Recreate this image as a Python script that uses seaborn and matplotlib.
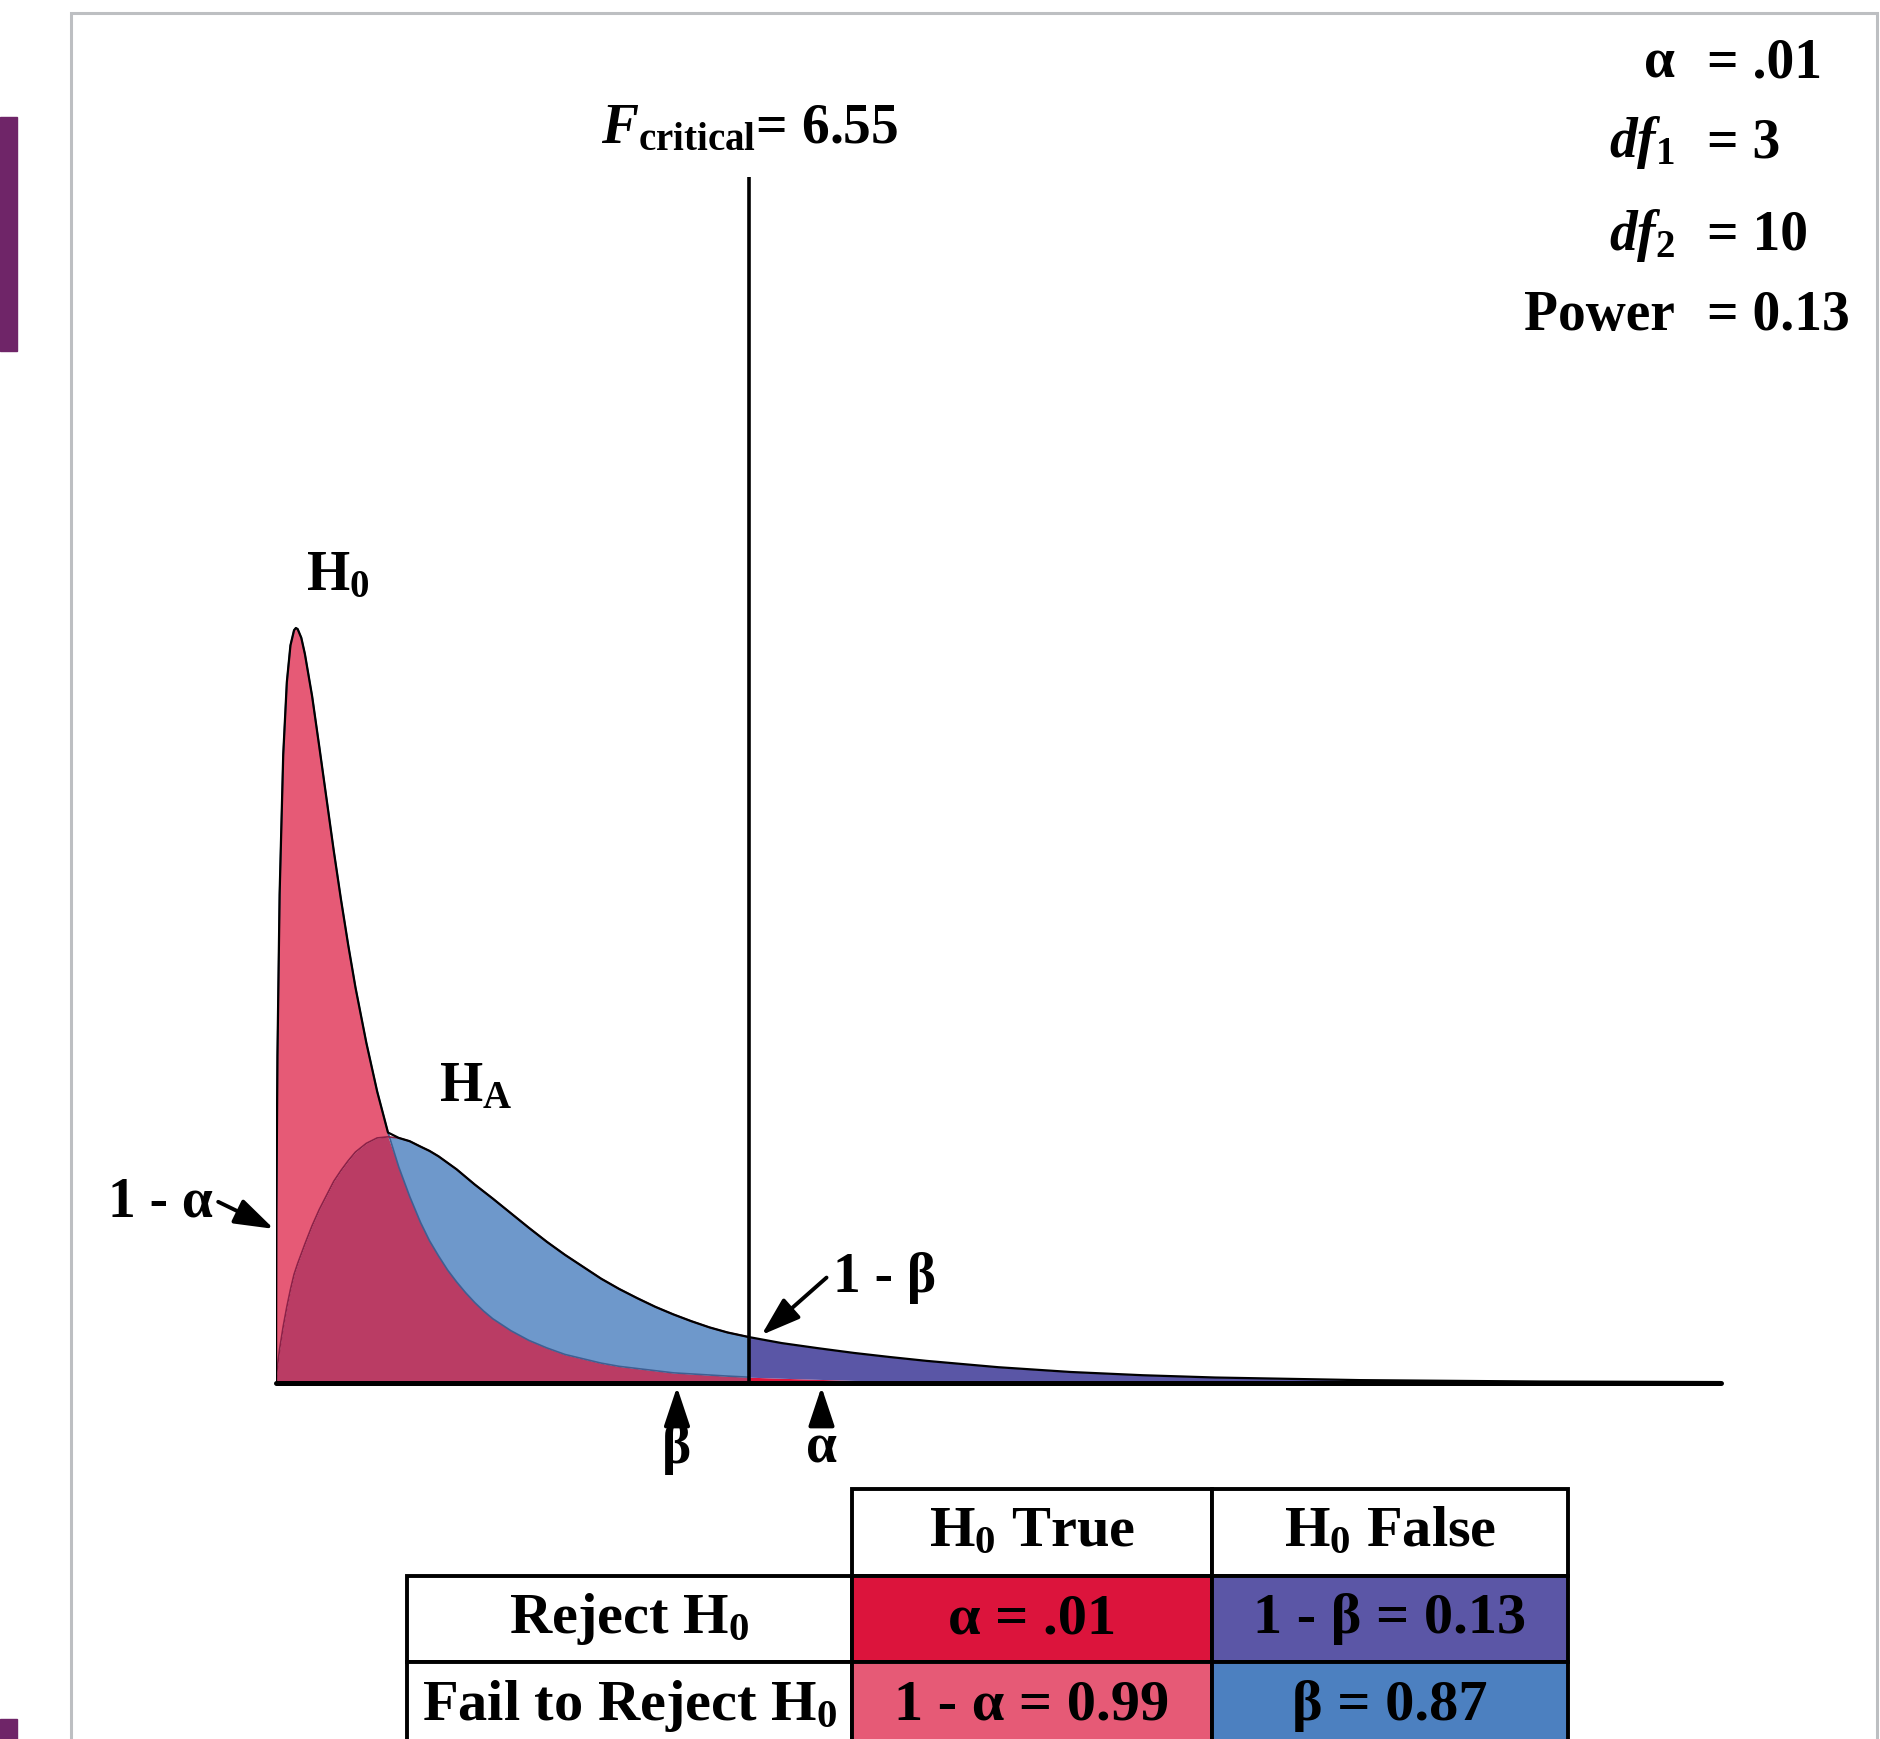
import numpy as np
import matplotlib
matplotlib.use("Agg")
import matplotlib.pyplot as plt
import seaborn as sns
from matplotlib.patches import Rectangle

# === Data ===
F_CRIT = 6.55
x_vals = [0, 0.005, 0.02, 0.05, 0.1, 0.15, 0.2, 0.25, 0.275, 0.3, 0.35, 0.4, 0.5, 0.6,
          0.7, 0.8, 0.9, 1.0, 1.1, 1.25, 1.4, 1.55, 1.7, 1.85, 2.0, 2.125, 2.25, 2.375,
          2.5, 2.625, 2.75, 2.875, 3.0, 3.25, 3.5, 3.75, 4.0, 4.25, 4.5, 4.75, 5.0,
          5.25, 5.5, 5.75, 6.0, 6.25, 6.55, 7.0, 7.5, 8.0, 8.5, 9.0, 10.0, 11.0, 12.0,
          13.0, 15.0, 17.5, 20.0]
h0_vals = [0, 0.156, 0.302, 0.451, 0.580, 0.647, 0.681, 0.695, 0.697, 0.696, 0.688,
           0.673, 0.634, 0.587, 0.539, 0.491, 0.446, 0.404, 0.365, 0.314, 0.269, 0.231,
           0.199, 0.172, 0.148, 0.131, 0.117, 0.104, 0.093, 0.083, 0.074, 0.066, 0.059,
           0.048, 0.039, 0.032, 0.026, 0.022, 0.018, 0.015, 0.013, 0.011, 0.009, 0.008,
           0.007, 0.006, 0.005, 0.004, 0.003, 0.002, 0.0017, 0.0014, 0.0009, 0.0006,
           0.0004, 0.0003, 0.0002, 0.0001, 0.0001]
ha_vals = [0, 0.006, 0.015, 0.031, 0.052, 0.070, 0.086, 0.100, 0.105, 0.110, 0.119,
           0.128, 0.145, 0.160, 0.173, 0.186, 0.196, 0.205, 0.213, 0.221, 0.226, 0.227,
           0.226, 0.223, 0.218, 0.214, 0.209, 0.203, 0.197, 0.190, 0.183, 0.1765, 0.170,
           0.1565, 0.143, 0.130, 0.118, 0.107, 0.096, 0.0865, 0.078, 0.070, 0.063,
           0.0567, 0.051, 0.0463, 0.042, 0.0365, 0.0318, 0.0274, 0.0236, 0.0201, 0.0142,
           0.0098, 0.0068, 0.0047, 0.0023, 0.0010, 0.0005]

params_left = ["α", r"$\mathit{df}_{\mathit{1}}$", r"$\mathit{df}_{\mathit{2}}$", "Power"]
params_right = ["= .01", "= 3", "= 10", "= 0.13"]

col_labels = ["", r"H$_\mathbf{0}$ True", r"H$_\mathbf{0}$ False"]
row_labels = [r"Reject H$_\mathbf{0}$", r"Fail to Reject H$_\mathbf{0}$"]
cell_text = [["α = .01", "1 - β = 0.13"],
             ["1 - α = 0.99", "β = 0.87"]]

# === Colours ===
PINK = "#E65A76"
OVERLAP = "#BA3C64"
BLUE = "#6E98CB"
PURPLE = "#5A56A6"
CRIMSON = "#DC143C"
cell_colours = [[CRIMSON, "#5B56A6"], [PINK, "#4C80C0"]]

sns.set_theme(style="white")
plt.rcParams["font.family"] = ["Liberation Serif", "DejaVu Serif"]
plt.rcParams["font.weight"] = "bold"
plt.rcParams["text.color"] = "black"
plt.rcParams["mathtext.fontset"] = "custom"
plt.rcParams["mathtext.rm"] = "Liberation Serif:bold"
plt.rcParams["mathtext.bf"] = "Liberation Serif:bold"
plt.rcParams["mathtext.it"] = "Liberation Serif:italic:bold"

W, H = 1880, 1739
fig = plt.figure(figsize=(W / 100, H / 100), dpi=100)


def fx(p):
    return p / W


def fy(p):
    return 1 - p / H


# panel border and side tabs
fig.patches.append(Rectangle((fx(71), fy(1760)), fx(1877) - fx(71), fy(13) - fy(1760),
                             transform=fig.transFigure, fill=False, ec="#BDBFC2", lw=2.2))
fig.patches.append(Rectangle((0, fy(351)), fx(17), fy(117) - fy(351),
                             transform=fig.transFigure, color="#6F2568"))
fig.patches.append(Rectangle((0, 0), fx(17), fy(1719),
                             transform=fig.transFigure, color="#6F2568"))

# === Distributions ===
x = np.array(x_vals)
h0 = np.array(h0_vals)
ha = np.array(ha_vals)
i_crit = int(np.where(x == F_CRIT)[0][0])
L = slice(0, i_crit + 1)
R = slice(i_crit, None)

ax = fig.add_axes([fx(276), fy(1545), fx(1721) - fx(276), fy(177) - fy(1545)])
ax.set_xlim(0, 20)
ax.set_ylim(-0.15, 1.1136)
ax.set_axis_off()

low = np.minimum(h0, ha)
ax.fill_between(x[L], 0, low[L], color=OVERLAP, lw=0, zorder=1)
ax.fill_between(x[L], ha[L], h0[L], where=h0[L] >= ha[L], interpolate=True,
                color=PINK, lw=0, zorder=1)
ax.fill_between(x[L], h0[L], ha[L], where=ha[L] >= h0[L], interpolate=True,
                color=BLUE, lw=0, zorder=1)
ax.fill_between(x[R], 0, h0[R], color=CRIMSON, lw=0, zorder=1)
ax.fill_between(x[R], h0[R], ha[R], color=PURPLE, lw=0, zorder=1)

# inner boundaries and outer envelope
sns.lineplot(x=x[L], y=h0[L], ax=ax, color="#3F5F92", lw=1.2, zorder=2)
sns.lineplot(x=x[L], y=ha[L], ax=ax, color="#8C2148", lw=1.2, zorder=2)
sns.lineplot(x=x, y=np.maximum(h0, ha), ax=ax, color="black", lw=1.6, zorder=3)

ax.vlines(F_CRIT, 0, 1.1136, color="black", lw=2.6, zorder=4)
ax.axhline(0, xmin=0, xmax=1, color="black", lw=3.6, zorder=5, clip_on=False)

FS = 40
ax.text(F_CRIT, 1.145, r"$F_{\mathbf{critical}}$= 6.55", ha="center", va="baseline",
        fontsize=FS)
ax.text(0.85, 0.732, r"H$_\mathbf{0}$", ha="center", va="baseline", fontsize=FS)
ax.text(2.77, 0.260, r"H$_\mathbf{A}$", ha="center", va="baseline", fontsize=FS)

arrow = dict(arrowstyle="-|>,head_length=0.6,head_width=0.2", color="black", lw=2.8,
             shrinkA=0, shrinkB=0, mutation_scale=40)
ax.text(-0.87, 0.166, "1 - α", ha="right", va="center", fontsize=FS)
ax.annotate("", xy=(-0.03, 0.142), xytext=(-0.80, 0.167), arrowprops=arrow,
            annotation_clip=False)
ax.text(7.71, 0.097, "1 - β", ha="left", va="center", fontsize=FS)
ax.annotate("", xy=(6.72, 0.044), xytext=(7.62, 0.097), arrowprops=arrow)
ax.annotate("", xy=(F_CRIT - 1, -0.004), xytext=(F_CRIT - 1, -0.040), arrowprops=arrow)
ax.annotate("", xy=(F_CRIT + 1, -0.004), xytext=(F_CRIT + 1, -0.040), arrowprops=arrow)
ax.text(F_CRIT - 1, -0.037, "β", ha="center", va="top", fontsize=FS)
ax.text(F_CRIT + 1, -0.037, "α", ha="center", va="top", fontsize=FS)

# parameter block
for left, right, base in zip(params_left, params_right, [77, 157, 250, 330]):
    fig.text(fx(1675), fy(base), left, ha="right", va="baseline", fontsize=FS)
    fig.text(fx(1707), fy(base), right, ha="left", va="baseline", fontsize=FS)

# === Decision table ===
rows = [[lab] + vals for lab, vals in zip(row_labels, cell_text)]
colours = [["white"] + c for c in cell_colours]
tax = fig.add_axes([fx(407), fy(1749), fx(1568) - fx(407), fy(1489) - fy(1749)])
tax.set_axis_off()
tbl = tax.table(cellText=rows, cellColours=colours, cellLoc="center",
                colLabels=col_labels, colLoc="center",
                colWidths=[445 / 1161, 360 / 1161, 356 / 1161], bbox=[0, 0, 1, 1])
tbl.auto_set_font_size(False)
tbl.set_fontsize(42)
for cell in tbl.get_celld().values():
    cell.set_linewidth(2.8)
    cell.set_edgecolor("black")
    cell.get_text().set_fontweight("bold")
    cell.get_text().set_color("black")
tbl[(0, 0)].set_visible(False)

fig.savefig("out.png", dpi=100)
